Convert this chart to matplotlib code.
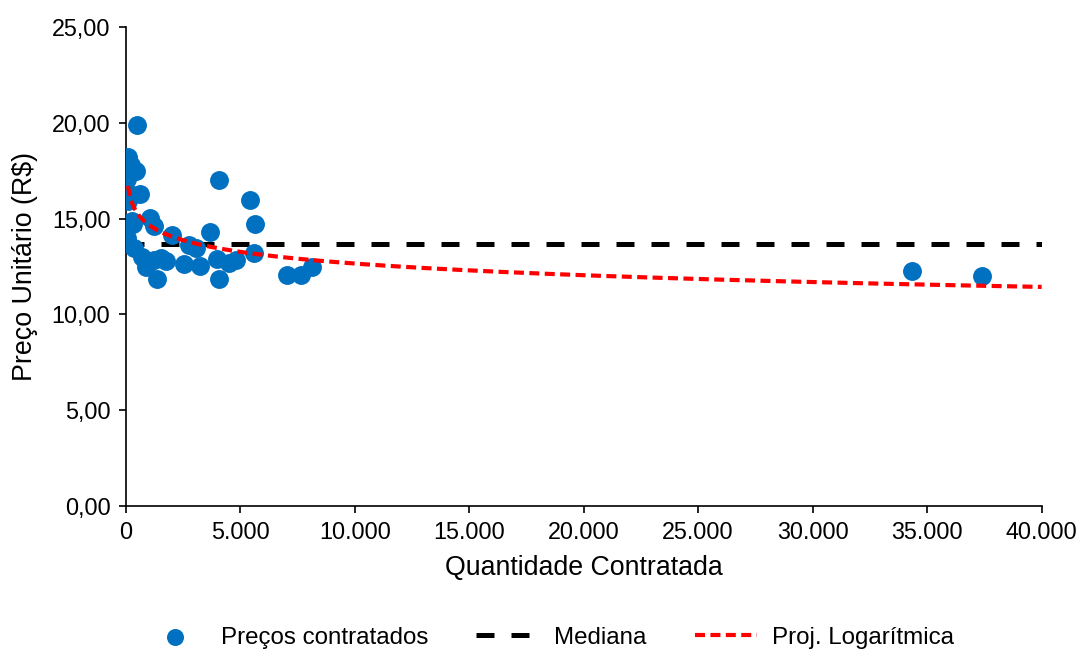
import numpy as np
import matplotlib
matplotlib.use("Agg")
import matplotlib.pyplot as plt
from matplotlib.ticker import FuncFormatter

plt.rcParams['font.family'] = ['Liberation Sans', 'DejaVu Sans']

# Scatter data: quantity contracted vs unit price
quantidade = [511, 100, 218, 437, 73, 626, 175, 100, 1048, 292, 330, 1237, 73, 364,
              2038, 3683, 4076, 5415, 5633, 2766, 3057, 4003, 5604, 873, 1237, 1528,
              1747, 1384, 2547, 3231, 4076, 4512, 4803, 730, 7031, 7642, 8122,
              34323, 37380]
preco = [19.9, 18.2, 17.8, 17.5, 17.05, 16.3, 16.3, 15.9, 15.05, 14.9, 14.7, 14.6, 14.0, 13.45,
         14.15, 14.3, 17.0, 15.95, 14.7, 13.6, 13.45, 12.9, 13.2, 12.45, 12.85, 12.95,
         12.8, 11.85, 12.65, 12.55, 11.85, 12.7, 12.85, 13.0, 12.05, 12.05, 12.45,
         12.25, 12.0]

mediana = 13.67
x_range = [0, 40000]

# Logarithmic trendline (y = a + b*ln(x)), coefficients
trend_a = 20.76
trend_b = -0.88
trend_x_start = 100

xticks = [0, 5000, 10000, 15000, 20000, 25000, 30000, 35000, 40000]
yticks = [0, 5, 10, 15, 20, 25]

q = np.array(quantidade, dtype=float)
p = np.array(preco, dtype=float)
xt = np.linspace(trend_x_start, x_range[1], 1000)
yt = trend_a + trend_b * np.log(xt)

fig = plt.figure(figsize=(10.8, 6.52), dpi=100)
ax = fig.add_axes([0.1164, 0.2239, 0.9645 - 0.1164, 0.9586 - 0.2239])

blue = '#0070C0'
ax.scatter(q, p, s=185, color=blue, zorder=3, linewidths=0, label='Preços contratados')
ax.plot(x_range, [mediana, mediana], color='black', lw=3.6, dashes=(3.6, 3.4),
        zorder=2, label='Mediana')
ax.plot(xt, yt, color='#FF0000', lw=3.0, dashes=(2.4, 1.3), zorder=4,
        label='Proj. Logarítmica')

ax.set_xlim(0, 40000)
ax.set_ylim(0, 25)
ax.set_xticks(xticks)
ax.set_yticks(yticks)
ax.xaxis.set_major_formatter(FuncFormatter(lambda v, pos: f"{int(v):,}".replace(',', '.')))
ax.yaxis.set_major_formatter(FuncFormatter(lambda v, pos: f"{v:.2f}".replace('.', ',')))
ax.tick_params(axis='both', direction='out', length=5, width=1.2, labelsize=16.8, pad=6)

for s in ['top', 'right']:
    ax.spines[s].set_visible(False)
for s in ['left', 'bottom']:
    ax.spines[s].set_linewidth(1.2)

ax.set_xlabel('Quantidade Contratada', fontsize=19.3, labelpad=8)
ax.set_ylabel('Preço Unitário (R$)', fontsize=19.3, labelpad=10)

fig.legend(loc='center', bbox_to_anchor=(0.508, 0.022), ncol=3, frameon=False,
           fontsize=17.4, handlelength=2.6, handletextpad=0.6, columnspacing=2.0,
           markerscale=0.9, borderpad=0.1)

fig.savefig('out.png', dpi=100)
